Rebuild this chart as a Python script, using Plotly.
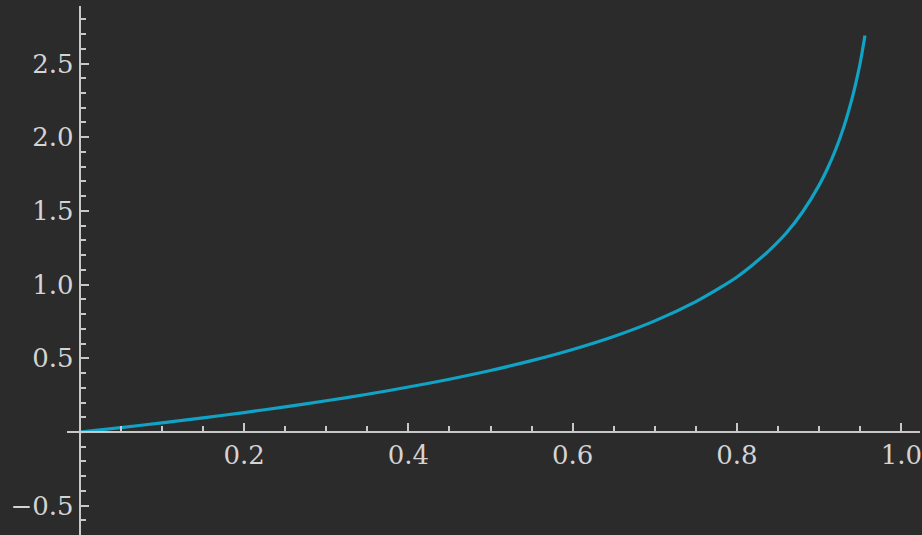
import plotly.graph_objects as go

# Curve samples
x_vals = [0.00, 0.05, 0.10, 0.15, 0.20, 0.25, 0.30, 0.35, 0.40, 0.45, 0.50,
          0.55, 0.60, 0.65, 0.70, 0.75, 0.78, 0.80, 0.82, 0.84, 0.86, 0.88,
          0.90, 0.91, 0.92, 0.93, 0.94, 0.945, 0.95, 0.9558]
y_vals = [0.000, 0.030, 0.062, 0.096, 0.132, 0.170, 0.212, 0.256, 0.305, 0.358, 0.417,
          0.484, 0.560, 0.648, 0.754, 0.885, 0.981, 1.052, 1.138, 1.236, 1.350, 1.494,
          1.675, 1.786, 1.915, 2.070, 2.262, 2.376, 2.505, 2.690]

# Tick labels
x_ticks = [0.2, 0.4, 0.6, 0.8, 1.0]
x_tick_text = ["0.2", "0.4", "0.6", "0.8", "1.0"]
y_ticks = [-0.5, 0.5, 1.0, 1.5, 2.0, 2.5]
y_tick_text = ["\u22120.5", "0.5", "1.0", "1.5", "2.0", "2.5"]

W, H = 922, 535
ML, MR, MT, MB = 67, 0, 6, 0
X_RANGE = [-0.0155, (W - ML - MR) / 823.5 - 0.0155]
Y_RANGE = [-(H - MT - MB - (432 - MT)) / 147.4, (432 - MT) / 147.4]

axis_col = "#c8c8c8"
font = dict(family="DejaVu Serif, Liberation Serif, serif", size=26, color="#d4d4d4")

fig = go.Figure()
fig.add_trace(go.Scatter(
    x=x_vals, y=y_vals, mode="lines",
    line=dict(color="#10a3c6", width=3.2, shape="spline", smoothing=0.8),
    hoverinfo="skip",
))

x0_paper = (0 - X_RANGE[0]) / (X_RANGE[1] - X_RANGE[0])
y0_paper = (0 - Y_RANGE[0]) / (Y_RANGE[1] - Y_RANGE[0])

fig.update_layout(
    width=W, height=H,
    margin=dict(l=ML, r=MR, t=MT, b=MB),
    paper_bgcolor="#2b2b2b", plot_bgcolor="#2b2b2b",
    showlegend=False,
    font=font,
    xaxis=dict(
        range=X_RANGE, anchor="free", position=y0_paper,
        showgrid=False, zeroline=False,
        showline=True, linecolor=axis_col, linewidth=2,
        ticks="inside", ticklen=8, tickwidth=1.5, tickcolor=axis_col,
        tickmode="array", tickvals=x_ticks, ticktext=x_tick_text,
        ticklabeloverflow="allow",
        minor=dict(dtick=0.05, tick0=0, ticks="inside", ticklen=5,
                   tickwidth=1.5, tickcolor=axis_col, showgrid=False),
        tickfont=font,
    ),
    yaxis=dict(
        range=Y_RANGE, anchor="free", position=x0_paper,
        showgrid=False, zeroline=False,
        showline=True, linecolor=axis_col, linewidth=2,
        ticks="inside", ticklen=8, tickwidth=1.5, tickcolor=axis_col,
        tickmode="array", tickvals=y_ticks, ticktext=y_tick_text,
        ticklabeloverflow="allow",
        minor=dict(dtick=0.1, tick0=0, ticks="inside", ticklen=5,
                   tickwidth=1.5, tickcolor=axis_col, showgrid=False),
        tickfont=font,
    ),
)

fig.write_html("out.html")
